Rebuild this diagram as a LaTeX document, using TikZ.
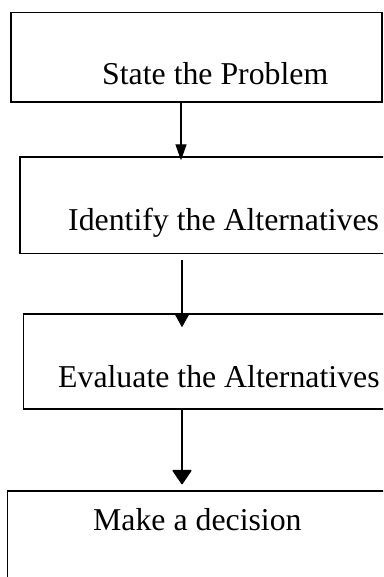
\documentclass[tikz,border=0pt]{standalone}
\usepackage{fontspec}
\setmainfont{Liberation Serif}
\usepackage{tikz}
\usetikzlibrary{arrows.meta}

\begin{document}
\begin{tikzpicture}[x=1pt,y=-1pt,
	box/.style={shape=rectangle,draw=black,line width=1.4pt,inner sep=0pt},
	lbl/.style={anchor=base west,inner sep=0pt,font=\fontsize{31.8}{38}\selectfont},
	arr/.style={line width=1.5pt}]
		\useasboundingbox (0,0) rectangle (383,577);
		\clip (0,0) rectangle (383,577);
		\node [box,minimum width=371pt,minimum height=89.5pt] (A1) at (196.5,57.25) {};
		\node [lbl] (B1) at (102,85) {State the Problem};
		\node [box,minimum width=400pt,minimum height=96.5pt] (A2) at (220,205.25) {};
		\node [lbl] (B2) at (68,230) {Identify the Alternatives};
		\node [box,minimum width=396.7pt,minimum height=95pt] (A3) at (221.65,361.5) {};
		\node [lbl] (B3) at (58,387) {Evaluate the Alternatives};
		\node [box,minimum width=412.7pt,minimum height=149pt] (A4) at (213.65,565.5) {};
		\node [lbl] (B4) at (93,530) {Make a decision};
		\draw [arr,line width=1.3pt,-{Triangle[length=16pt,width=11pt]},shorten >=-4pt] ([xshift=-15.5pt]A1.south) -- ([xshift=-39pt]A2.north);
		\draw [arr,line width=1.7pt,-{Triangle[length=13pt,width=14pt]},shorten <=5.5pt,shorten >=-14pt] ([xshift=-38pt]A2.south) -- ([xshift=-39.65pt]A3.north);
		\draw [arr,-{Triangle[length=15pt,width=20pt,round]},shorten >=6pt] ([xshift=-39.65pt]A3.south) -- ([xshift=-31.65pt]A4.north);
	\end{tikzpicture}
\end{document}
